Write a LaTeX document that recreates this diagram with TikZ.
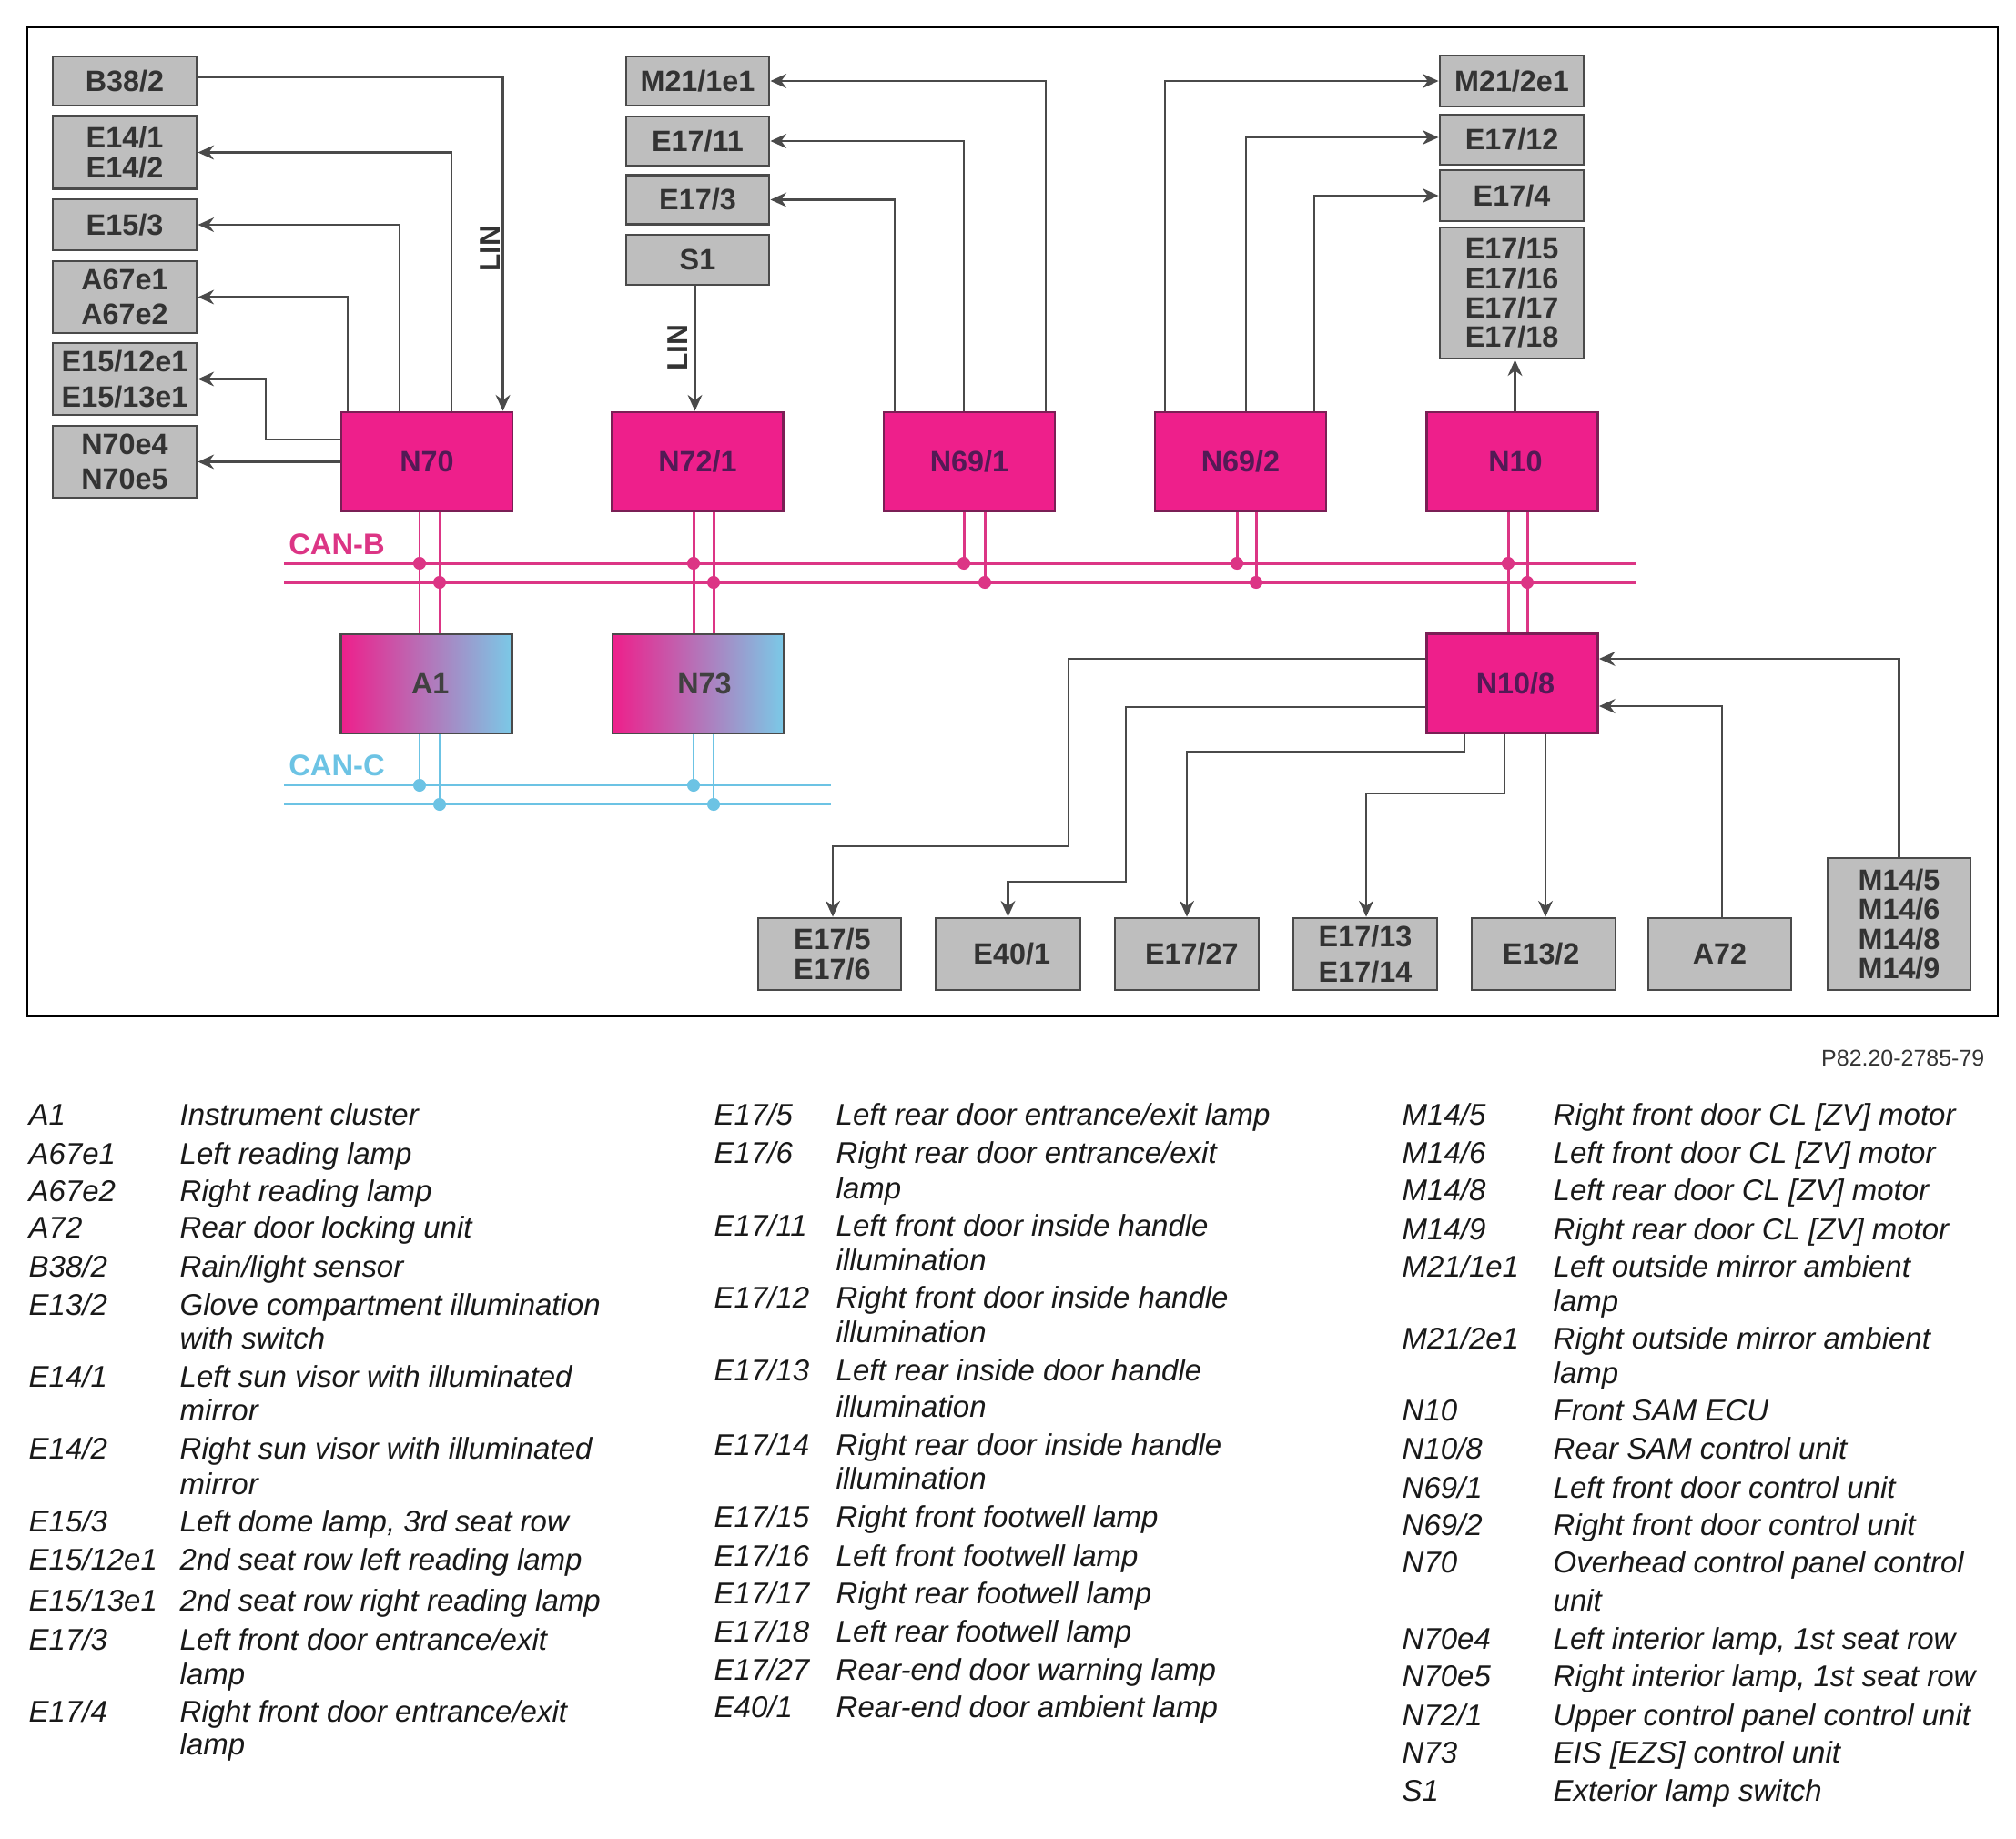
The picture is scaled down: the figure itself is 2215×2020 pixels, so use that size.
\documentclass[tikz,border=0pt]{standalone}
\usepackage{fontspec}
\setmainfont{Liberation Sans}
\usetikzlibrary{arrows.meta}
\definecolor{unitgray}{HTML}{BEBEBE}
\definecolor{edgegray}{HTML}{4A4A4A}
\definecolor{ecupink}{HTML}{EE1F8B}
\definecolor{ecuedge}{HTML}{7A1F55}
\definecolor{ecutext}{HTML}{521A55}
\definecolor{canbpink}{HTML}{DC3585}
\definecolor{cancblue}{HTML}{6CC3E4}
\tikzset{
  unitbox/.style={draw=edgegray, line width=0.8pt, fill=unitgray, inner sep=0pt, align=center,
    text=black!80, font=\fontsize{9.2}{9.2}\selectfont\bfseries},
  ecubox/.style={draw=ecuedge, line width=0.8pt, fill=ecupink, inner sep=0pt, minimum width=1.88cm,
    minimum height=1.09cm, text=ecutext, font=\fontsize{9.2}{9.2}\selectfont\bfseries},
  gatebox/.style={ecubox, draw=edgegray, left color=ecupink, right color=cancblue!90!white, text=black!75},
  sigline/.style={edgegray, line width=0.7pt, >={Stealth[length=5pt,width=4.5pt]}},
  canbline/.style={canbpink, line width=0.85pt},
  cancline/.style={cancblue, line width=0.7pt},
  buslabel/.style={inner sep=0pt, font=\fontsize{9.3}{9.3}\selectfont\bfseries},
  linlabel/.style={rotate=90, inner sep=0pt, text=black!80, font=\fontsize{9}{9}\selectfont\bfseries},
  legkey/.style={anchor=base west, inner sep=0pt, yshift=0.015cm, text=black!90, font=\fontsize{9.38}{9.38}\selectfont\itshape},
  legtext/.style={legkey}
}
\begin{document}
\begin{tikzpicture}[x=0.01cm, y=-0.01cm]
  \useasboundingbox (0,0) rectangle (2215,2020);
  \draw[black, line width=0.7pt] (30,30) rectangle (2195,1117);

  % left column
  \node[unitbox, minimum width=1.58cm, minimum height=0.54cm] (B38) at (137,89) {B38/2};
  \node[unitbox, minimum width=1.58cm, minimum height=0.795cm] (E14) at (137,167.5) {E14/1\\E14/2};
  \node[unitbox, minimum width=1.58cm, minimum height=0.56cm] (E153) at (137,247) {E15/3};
  \node[unitbox, minimum width=1.58cm, minimum height=0.79cm] (A67) at (137,326.5) {A67e1\\[1.7pt]A67e2};
  \node[unitbox, minimum width=1.58cm, minimum height=0.79cm] (E1512) at (137,416.5) {E15/12e1\\[1.7pt]E15/13e1};
  \node[unitbox, minimum width=1.58cm, minimum height=0.79cm] (N70e) at (137,507.5) {N70e4\\[1.7pt]N70e5};

  % middle column
  \node[unitbox, minimum width=1.57cm, minimum height=0.54cm] (M211) at (766.5,89) {M21/1e1};
  \node[unitbox, minimum width=1.57cm, minimum height=0.54cm] (E1711) at (766.5,155) {E17/11};
  \node[unitbox, minimum width=1.57cm, minimum height=0.54cm] (E173) at (766.5,219.5) {E17/3};
  \node[unitbox, minimum width=1.57cm, minimum height=0.55cm] (S1) at (766.5,285.5) {S1};

  % right column
  \node[unitbox, minimum width=1.58cm, minimum height=0.56cm] (M212) at (1661,89) {M21/2e1};
  \node[unitbox, minimum width=1.58cm, minimum height=0.55cm] (E1712) at (1661,153.5) {E17/12};
  \node[unitbox, minimum width=1.58cm, minimum height=0.56cm] (E174) at (1661,215) {E17/4};
  \node[unitbox, minimum width=1.58cm, minimum height=1.44cm] (E1715) at (1661,322) {E17/15\\E17/16\\E17/17\\E17/18};

  % control units
  \node[ecubox] (N70) at (469,507.5) {N70};
  \node[ecubox] (N721) at (766.5,507.5) {N72/1};
  \node[ecubox] (N691) at (1065,507.5) {N69/1};
  \node[ecubox] (N692) at (1363,507.5) {N69/2};
  \node[ecubox] (N10) at (1661.5,507.5) {\hspace*{2pt}N10};
  \node[gatebox] (A1) at (468.5,751.5) {\hspace*{2.4pt}\raisebox{-1.2pt}{A1}};
  \node[gatebox] (N73) at (767,751.5) {\hspace*{4pt}\raisebox{-1.2pt}{N73}};
  \node[ecubox] (N108) at (1661.5,751) {\hspace*{2pt}\raisebox{-1.2pt}{N10/8}};

  % bottom row
  \node[unitbox, minimum width=1.57cm, minimum height=0.79cm] (E175) at (911.5,1048.5) {\hspace*{1.6pt}E17/5\\\hspace*{1.6pt}E17/6};
  \node[unitbox, minimum width=1.59cm, minimum height=0.79cm] (E401) at (1107.5,1048.5) {\hspace*{2.4pt}E40/1};
  \node[unitbox, minimum width=1.58cm, minimum height=0.79cm] (E1727) at (1304,1048.5) {\hspace*{3pt}E17/27};
  \node[unitbox, minimum width=1.58cm, minimum height=0.79cm] (E1713) at (1500,1048.5) {E17/13\\[1.7pt]E17/14};
  \node[unitbox, minimum width=1.58cm, minimum height=0.79cm] (E132) at (1696,1048.5) {E13/2\hspace*{1.6pt}};
  \node[unitbox, minimum width=1.57cm, minimum height=0.79cm] (A72) at (1889.5,1048.5) {A72};
  \node[unitbox, minimum width=1.57cm, minimum height=1.45cm] (M14) at (2086.5,1015.5) {M14/5\\M14/6\\M14/8\\M14/9};

  % signal lines
  \draw[sigline,->] ([yshift=0.04cm]B38.east) -| ([xshift=0.835cm]N70.north);
  \draw[sigline,<-] (E14.east) -| ([xshift=0.27cm]N70.north) ;
  \draw[sigline,<-] (E153.east) -| ([xshift=-0.3cm]N70.north);
  \draw[sigline,<-] (A67.east) -| ([xshift=-0.87cm]N70.north);
  \coordinate (e15jog) at (292,483);
  \draw[sigline,->] (N70.west |- e15jog) -- (e15jog) |- (E1512.east);
  \draw[sigline,->] (N70.west) -- (N70e.east);
  \draw[sigline,->] ([xshift=-0.03cm]S1.south) -- ([xshift=-0.03cm]S1.south |- N721.north);
  \draw[sigline,->] ([xshift=0.84cm]N691.north) |- (M211.east);
  \draw[sigline,->] ([xshift=-0.06cm]N691.north) |- (E1711.east);
  \draw[sigline,->] ([xshift=-0.82cm]N691.north) |- (E173.east);
  \draw[sigline,->] ([xshift=-0.83cm]N692.north) |- (M212.west);
  \draw[sigline,->] ([xshift=0.06cm]N692.north) |- ([yshift=0.025cm]E1712.west);
  \draw[sigline,->] ([xshift=0.81cm]N692.north) |- (E174.west);
  \draw[sigline,->] ([xshift=0.03cm]N10.north) -- ([xshift=0.03cm]N10.north |- E1715.south);

  \coordinate (e175jog) at (1174,930);
  \coordinate (e401jog) at (1237,969);
  \coordinate (e1727jog) at (1304,826);
  \coordinate (e1713jog) at (1501,872);
  \draw[sigline,->] ([yshift=0.27cm]N108.west) -| (e175jog) -| ([xshift=0.035cm]E175.north);
  \draw[sigline,->] ([yshift=-0.26cm]N108.west) -| (e401jog) -| (E401.north);
  \draw[sigline,->] ([xshift=-0.525cm]N108.south) |- (e1727jog) -- (e1727jog |- E1727.north);
  \draw[sigline,->] ([xshift=-0.085cm]N108.south) |- (e1713jog) -- (e1713jog |- E1713.north);
  \draw[sigline,->] ([xshift=0.365cm]N108.south) -- ([xshift=0.365cm]N108.south |- E132.north);
  \draw[sigline,->] ([xshift=0.025cm]A72.north) |- ([yshift=-0.25cm]N108.east);
  \draw[sigline,->] (M14.north) |- ([yshift=0.27cm]N108.east);

  % CAN-B
  \coordinate (canbU) at (312,619);
  \coordinate (canbL) at (312,640);
  \draw[canbline] (canbU) -- (1798,619);
  \draw[canbline] (canbL) -- (1798,640);
  \node[buslabel, text=canbpink] (canblabel) at (370,598.5) {CAN-B};
  \foreach \unit/\lower/\dxa/\dxb in {N70/A1/-0.08/0.14, N721/N73/-0.045/0.175, N10/N108/-0.045/0.165} {
    \draw[canbline] ([xshift=\dxa cm]\unit.south) -- ([xshift=\dxa cm]\unit.south |- \lower.north);
    \draw[canbline] ([xshift=\dxb cm]\unit.south) -- ([xshift=\dxb cm]\unit.south |- \lower.north);
    \fill[canbpink] ([xshift=\dxa cm]\unit.south |- canbU) circle (2pt);
    \fill[canbpink] ([xshift=\dxb cm]\unit.south |- canbL) circle (2pt);
  }
  \foreach \unit/\dxa/\dxb in {N691/-0.06/0.17, N692/-0.04/0.17} {
    \draw[canbline] ([xshift=\dxa cm]\unit.south) -- ([xshift=\dxa cm]\unit.south |- canbU);
    \draw[canbline] ([xshift=\dxb cm]\unit.south) -- ([xshift=\dxb cm]\unit.south |- canbL);
    \fill[canbpink] ([xshift=\dxa cm]\unit.south |- canbU) circle (2pt);
    \fill[canbpink] ([xshift=\dxb cm]\unit.south |- canbL) circle (2pt);
  }

  % CAN-C
  \coordinate (cancU) at (312,863);
  \coordinate (cancL) at (312,884);
  \draw[cancline] (cancU) -- (913,863);
  \draw[cancline] (cancL) -- (913,884);
  \node[buslabel, text=cancblue] (canclabel) at (370,841.5) {CAN-C};
  \foreach \unit/\dxa/\dxb in {A1/-0.075/0.145, N73/-0.05/0.17} {
    \draw[cancline] ([xshift=\dxa cm]\unit.south) -- ([xshift=\dxa cm]\unit.south |- cancU);
    \draw[cancline] ([xshift=\dxb cm]\unit.south) -- ([xshift=\dxb cm]\unit.south |- cancL);
    \fill[cancblue] ([xshift=\dxa cm]\unit.south |- cancU) circle (2pt);
    \fill[cancblue] ([xshift=\dxb cm]\unit.south |- cancL) circle (2pt);
  }

  \node[linlabel] (linA) at (539,273) {LIN};
  \node[linlabel] (linB) at (745,382) {LIN};
  \node[anchor=east, inner sep=0pt, text=black!80, font=\fontsize{7.1}{7.1}\selectfont] (partno) at (2181,1163) {P82.20-2785-79};

  % legend
  \foreach \y/\k/\t [count=\i] in {1238/A1/Instrument cluster, 1280.5/A67e1/Left reading lamp,
      1321.5/A67e2/Right reading lamp, 1362/A72/Rear door locking unit, 1405/{B38/2}/{Rain/light sensor},
      1447/{E13/2}/Glove compartment illumination, 1526/{E14/1}/Left sun visor with illuminated,
      1605/{E14/2}/Right sun visor with illuminated, 1684.5/{E15/3}/{Left dome lamp, 3rd seat row},
      1727/{E15/12e1}/2nd seat row left reading lamp, 1772/{E15/13e1}/2nd seat row right reading lamp,
      1814.5/{E17/3}/{Left front door entrance/exit}, 1894/{E17/4}/{Right front door entrance/exit}} {
    \node[legkey] (keyA\i) at (31,\y) {\k};
    \node[legtext] (txtA\i) at (197,\y) {\t};
  }
  \foreach \y/\k/\t [count=\i] in {1238/{E17/5}/{Left rear door entrance/exit lamp}, 1280/{E17/6}/{Right rear door entrance/exit},
      1360/{E17/11}/Left front door inside handle, 1439/{E17/12}/Right front door inside handle,
      1519/{E17/13}/Left rear inside door handle, 1601/{E17/14}/Right rear door inside handle,
      1680/{E17/15}/Right front footwell lamp, 1723/{E17/16}/Left front footwell lamp,
      1764/{E17/17}/Right rear footwell lamp, 1806/{E17/18}/Left rear footwell lamp,
      1848/{E17/27}/Rear-end door warning lamp, 1889/{E40/1}/Rear-end door ambient lamp} {
    \node[legkey] (keyB\i) at (784,\y) {\k};
    \node[legtext] (txtB\i) at (918,\y) {\t};
  }
  \foreach \y/\k/\t [count=\i] in {1238/{M14/5}/{Right front door CL [ZV] motor}, 1280/{M14/6}/{Left front door CL [ZV] motor},
      1321/{M14/8}/{Left rear door CL [ZV] motor}, 1364/{M14/9}/{Right rear door CL [ZV] motor},
      1405/{M21/1e1}/Left outside mirror ambient, 1484/{M21/2e1}/Right outside mirror ambient,
      1563/N10/Front SAM ECU, 1605/{N10/8}/Rear SAM control unit, 1648/{N69/1}/Left front door control unit,
      1689/{N69/2}/Right front door control unit, 1730/N70/Overhead control panel control,
      1814/N70e4/{Left interior lamp, 1st seat row}, 1855/N70e5/{Right interior lamp, 1st seat row},
      1898/{N72/1}/Upper control panel control unit, 1939/N73/{EIS [EZS] control unit}, 1981/S1/Exterior lamp switch} {
    \node[legkey] (keyC\i) at (1540,\y) {\k};
    \node[legtext] (txtC\i) at (1706,\y) {\t};
  }
  % second lines of the legend
  \foreach \x/\y/\t [count=\i] in {197/1484/with switch, 197/1563/mirror, 197/1643.5/mirror, 197/1853/lamp, 197/1930/lamp,
      918/1319/lamp, 918/1398/illumination, 918/1477/illumination, 918/1559/illumination, 918/1638/illumination,
      1706/1443/lamp, 1706/1522/lamp, 1706/1772/unit} {
    \node[legtext] (txtM\i) at (\x,\y) {\t};
  }
\end{tikzpicture}
\end{document}
